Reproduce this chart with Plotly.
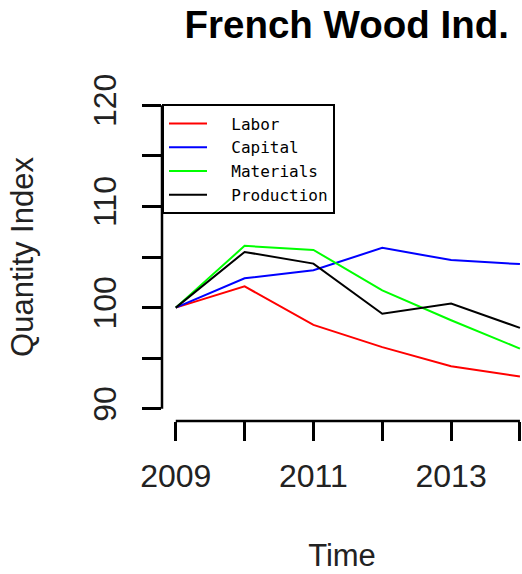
import plotly.graph_objects as go

# Yearly quantity indices, French wood industry (2009 = 100)
years = [2009, 2010, 2011, 2012, 2013, 2014]
labor = [100.0, 102.1, 98.3, 96.1, 94.2, 93.2]
capital = [100.0, 102.9, 103.7, 105.9, 104.7, 104.3]
materials = [100.0, 106.1, 105.7, 101.7, 98.75, 95.95]
production = [100.0, 105.5, 104.35, 99.4, 100.4, 98.0]

series_names = ["Labor", "Capital", "Materials", "Production"]
series_colors = ["#ff0000", "#0000ff", "#00ff00", "#000000"]

x_ticks = [2009, 2010, 2011, 2012, 2013, 2014]
x_labels = ["2009", "", "2011", "", "2013", ""]
y_ticks = [90, 95, 100, 105, 110, 115, 120]
y_labels = ["90", "", "100", "", "110", "", "120"]

FONT = "Liberation Sans, Arial, sans-serif"
LEGEND_INDENT = "\u00a0\u00a0"  # gap between legend key line and its label

fig = go.Figure()
for name, color, vals in zip(series_names, series_colors,
                             [labor, capital, materials, production]):
    fig.add_trace(go.Scatter(
        x=years, y=vals, name=LEGEND_INDENT + name, mode="lines",
        line=dict(color=color, width=2),
        cliponaxis=True,
    ))

# Axis lines run only from the first to the last tick
fig.add_shape(type="line", xref="x", yref="y domain",
              x0=x_ticks[0], x1=x_ticks[-1], y0=0, y1=0,
              line=dict(color="black", width=2.5))
fig.add_shape(type="line", xref="x domain", yref="y",
              x0=0, x1=0, y0=y_ticks[0], y1=y_ticks[-1],
              line=dict(color="black", width=2.5))

fig.update_layout(
    width=522, height=574,
    margin=dict(l=161.7, r=0, t=92.6, b=153.3, pad=0),
    paper_bgcolor="white", plot_bgcolor="white",
    font=dict(family=FONT, color="black"),
    showlegend=True,
    title=dict(
        text="<b>French Wood Ind.</b>",
        font=dict(family=FONT, size=38.5, color="black"),
        x=0.513, xref="paper", xanchor="center",
        y=1 - 25 / 574, yref="container", yanchor="middle",
    ),
    legend=dict(
        x=0, y=0.965, xanchor="left", yanchor="top",
        xref="paper", yref="paper",
        bgcolor="white", bordercolor="black", borderwidth=2,
        font=dict(family="DejaVu Sans Mono", size=16, color="black"),
        itemwidth=38,
    ),
    xaxis=dict(
        range=[2008.8, 2014.03], showgrid=False, zeroline=False,
        showline=False,
        tickmode="array", tickvals=x_ticks, ticktext=x_labels,
        ticks="outside", ticklen=19, tickwidth=2.5, tickcolor="black",
        tickfont=dict(family=FONT, size=32, color="#222222"),
        ticklabelstandoff=8,
        title=dict(text="Time", font=dict(family=FONT, size=31, color="#222222"),
                   standoff=50),
        automargin=False,
    ),
    yaxis=dict(
        range=[88.8, 121.2], showgrid=False, zeroline=False,
        showline=False,
        tickmode="array", tickvals=y_ticks, ticktext=y_labels,
        ticks="outside", ticklen=19, tickwidth=2.5, tickcolor="black",
        tickangle=-90,
        tickfont=dict(family=FONT, size=32, color="#222222"),
        ticklabelstandoff=13,
        title=dict(text="Quantity Index", font=dict(family=FONT, size=31, color="#222222"),
                   standoff=44),
        automargin=False,
    ),
)

fig.write_html("out.html")
